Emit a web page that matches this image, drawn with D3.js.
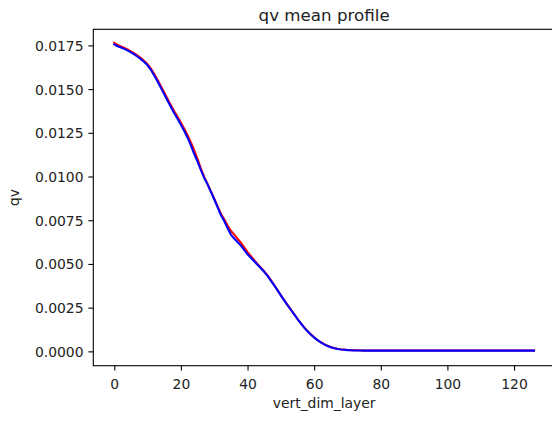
<!DOCTYPE html>
<html>
<head>
<meta charset="utf-8">
<script src="https://cdn.jsdelivr.net/npm/d3@7"></script>
<style>
  html, body { margin: 0; padding: 0; background: #fff; }
  svg { display: block; font-family: "DejaVu Sans", sans-serif; }
</style>
</head>
<body>
<svg id="chart" width="552" height="423"></svg>
<script>
// ---- data ----
const layers = d3.range(0, 127);
const qvRed = [
  0.01765, 0.01752, 0.01744, 0.01736, 0.01727, 0.01716, 0.01704, 0.01691, 0.01677, 0.01661,
  0.01642, 0.01617, 0.01586, 0.01552, 0.01516, 0.01480, 0.01443, 0.01408, 0.01373, 0.01341,
  0.01308, 0.01273, 0.01236, 0.01195, 0.01150, 0.01100, 0.01045, 0.00998, 0.00958, 0.00915,
  0.00873, 0.00830, 0.00787, 0.00755, 0.00720, 0.00690, 0.00668, 0.00645, 0.00622, 0.00595,
  0.00568, 0.00545, 0.00522, 0.00500, 0.00479, 0.00458, 0.00434, 0.00407, 0.00379, 0.00350,
  0.00321, 0.00293, 0.00266, 0.00239, 0.00213, 0.00186, 0.00161, 0.00137, 0.00116, 0.00097,
  0.00080, 0.00065, 0.00052, 0.00041, 0.00032, 0.00025, 0.00019, 0.00015, 0.00012, 0.00010,
  0.00008, 0.00007, 0.00006, 0.00006, 0.00005, 0.00005, 0.00005, 0.00005, 0.00005, 0.00005,
  0.00005, 0.00005, 0.00005, 0.00005, 0.00005, 0.00005, 0.00005, 0.00005, 0.00005, 0.00005,
  0.00005, 0.00005, 0.00005, 0.00005, 0.00005, 0.00005, 0.00005, 0.00005, 0.00005, 0.00005,
  0.00005, 0.00005, 0.00005, 0.00005, 0.00005, 0.00005, 0.00005, 0.00005, 0.00005, 0.00005,
  0.00005, 0.00005, 0.00005, 0.00005, 0.00005, 0.00005, 0.00005, 0.00005, 0.00005, 0.00005,
  0.00005, 0.00005, 0.00005, 0.00005, 0.00005, 0.00005, 0.00005
];
const qvBlue = [
  0.01756, 0.01745, 0.01738, 0.01730, 0.01721, 0.01710, 0.01698, 0.01685, 0.01671, 0.01655,
  0.01636, 0.01610, 0.01578, 0.01543, 0.01507, 0.01470, 0.01433, 0.01398, 0.01362, 0.01330,
  0.01296, 0.01260, 0.01222, 0.01178, 0.01128, 0.01085, 0.01037, 0.00992, 0.00955, 0.00912,
  0.00870, 0.00825, 0.00780, 0.00745, 0.00705, 0.00668, 0.00645, 0.00625, 0.00605, 0.00580,
  0.00555, 0.00535, 0.00515, 0.00495, 0.00475, 0.00455, 0.00432, 0.00405, 0.00378, 0.00349,
  0.00320, 0.00292, 0.00265, 0.00238, 0.00212, 0.00185, 0.00160, 0.00136, 0.00115, 0.00096,
  0.00079, 0.00064, 0.00051, 0.00040, 0.00031, 0.00024, 0.00018, 0.00014, 0.00011, 0.00009,
  0.00007, 0.00006, 0.00005, 0.00005, 0.00005, 0.00004, 0.00004, 0.00004, 0.00004, 0.00004,
  0.00004, 0.00004, 0.00004, 0.00004, 0.00004, 0.00004, 0.00004, 0.00004, 0.00004, 0.00004,
  0.00004, 0.00004, 0.00004, 0.00004, 0.00004, 0.00004, 0.00004, 0.00004, 0.00004, 0.00004,
  0.00004, 0.00004, 0.00004, 0.00004, 0.00004, 0.00004, 0.00004, 0.00004, 0.00004, 0.00004,
  0.00004, 0.00004, 0.00004, 0.00004, 0.00004, 0.00004, 0.00004, 0.00004, 0.00004, 0.00004,
  0.00004, 0.00004, 0.00004, 0.00004, 0.00004, 0.00004, 0.00004
];
const xTicks = [0, 20, 40, 60, 80, 100, 120];
const yTicks = [0.0000, 0.0025, 0.0050, 0.0075, 0.0100, 0.0125, 0.0150, 0.0175];
const xLimits = [-6.3, 132.3];
const yLimits = [-0.00082, 0.01842];
const titleText = "qv mean profile";
const xLabelText = "vert_dim_layer";
const yLabelText = "qv";

// ---- layout ----
const plot = { left: 93.3, right: 555, top: 29.3, bottom: 365.7 };
const svg = d3.select("#chart");

const x = d3.scaleLinear().domain(xLimits).range([plot.left, plot.right]);
const y = d3.scaleLinear().domain(yLimits).range([plot.bottom, plot.top]);

const tickLen = 4.9, tickPad = 4.9, fs = 13.9;

// Axes
const xAxis = d3.axisBottom(x).tickValues(xTicks).tickFormat(d3.format("d"))
  .tickSize(tickLen).tickPadding(tickPad).tickSizeOuter(0);
const yAxis = d3.axisLeft(y).tickValues(yTicks).tickFormat(d3.format(".4f"))
  .tickSize(tickLen).tickPadding(tickPad).tickSizeOuter(0);

const gx = svg.append("g").attr("transform", `translate(0,${plot.bottom})`).call(xAxis);
const gy = svg.append("g").attr("transform", `translate(${plot.left},0)`).call(yAxis);
[gx, gy].forEach(g => {
  g.select(".domain").remove();
  g.selectAll(".tick line").attr("stroke", "#000").attr("stroke-width", 1.1);
  g.selectAll(".tick text").attr("fill", "#222").attr("font-size", fs)
    .attr("font-family", "DejaVu Sans, sans-serif");
});
gx.selectAll(".tick text").attr("dy", null).attr("y", 23.3 - 0)
  .attr("dominant-baseline", "alphabetic");
gy.selectAll(".tick text").attr("dy", "0.36em");

// Lines
const line = d3.line().x((d, i) => x(layers[i])).y(d => y(d));
svg.append("path").datum(qvRed).attr("d", line)
  .attr("fill", "none").attr("stroke", "#ff0000").attr("stroke-width", 2.1)
  .attr("stroke-linejoin", "round").attr("stroke-linecap", "square");
svg.append("path").datum(qvBlue).attr("d", line)
  .attr("fill", "none").attr("stroke", "#0000ff").attr("stroke-width", 2.1)
  .attr("stroke-linejoin", "round").attr("stroke-linecap", "square");

// Frame
svg.append("rect")
  .attr("x", plot.left).attr("y", plot.top)
  .attr("width", plot.right - plot.left).attr("height", plot.bottom - plot.top)
  .attr("fill", "none").attr("stroke", "#000").attr("stroke-width", 1.1);

// Title and labels
svg.append("text").attr("x", (plot.left + plot.right) / 2).attr("y", 21)
  .attr("text-anchor", "middle").attr("font-size", 16.7).attr("fill", "#222")
  .text(titleText);
svg.append("text").attr("x", (plot.left + plot.right) / 2).attr("y", 407.5)
  .attr("text-anchor", "middle").attr("font-size", fs).attr("fill", "#222")
  .text(xLabelText);
svg.append("text")
  .attr("transform", `translate(18.5,${(plot.top + plot.bottom) / 2}) rotate(-90)`)
  .attr("text-anchor", "middle").attr("font-size", fs).attr("fill", "#222")
  .text(yLabelText);
</script>
</body>
</html>
